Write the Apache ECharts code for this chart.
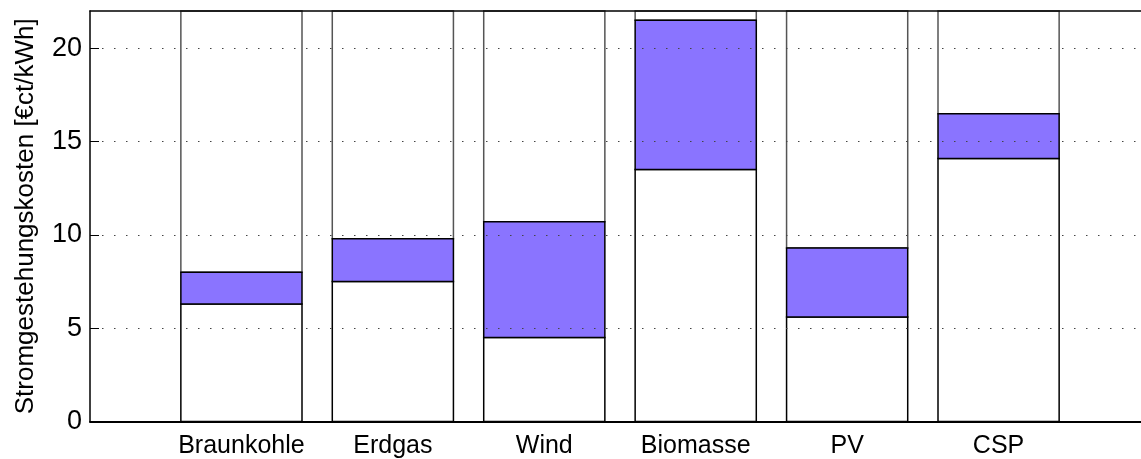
<!DOCTYPE html>
<html>
<head>
<meta charset="utf-8">
<script src="https://cdn.jsdelivr.net/npm/echarts@6/dist/echarts.min.js"></script>
<style>
html,body{margin:0;padding:0;background:#fff;}
#chart{width:1141px;height:459px;}
</style>
</head>
<body>
<div id="chart"></div>
<script>
const categories = ['Braunkohle', 'Erdgas', 'Wind', 'Biomasse', 'PV', 'CSP'];
const lowValues = [6.3, 7.5, 4.5, 13.5, 5.6, 14.1];
const highValues = [8.0, 9.8, 10.7, 21.5, 9.3, 16.5];
const yTicks = [0, 5, 10, 15, 20];
const yMax = 22;

const FONT = 'Liberation Sans, Arial, Helvetica, sans-serif';
const PURPLE = '#8a74ff';
const BAR_W = 0.8;

const data = categories.map((c, i) => [i + 1, lowValues[i], highValues[i]]);

function renderItem(params, api) {
  const x = api.value(0), lo = api.value(1), hi = api.value(2);
  const w = api.size([BAR_W, 0])[0];
  const left = api.coord([x - BAR_W / 2, 0])[0];
  const y0 = api.coord([x, 0])[1];
  const yLo = api.coord([x, lo])[1];
  const yHi = api.coord([x, hi])[1];
  const yTop = api.coord([x, yMax])[1];
  return {
    type: 'group',
    children: [
      { type: 'rect', shape: { x: left, y: yTop, width: w, height: yHi - yTop },
        style: { fill: 'none', stroke: '#555', lineWidth: 1.5 } },
      { type: 'rect', shape: { x: left, y: yLo, width: w, height: y0 - yLo },
        style: { fill: 'none', stroke: '#000', lineWidth: 1.5 } },
      { type: 'rect', shape: { x: left, y: yHi, width: w, height: yLo - yHi },
        style: { fill: PURPLE, stroke: '#000', lineWidth: 1.5 } }
    ]
  };
}

const chart = echarts.init(document.getElementById('chart'));
chart.setOption({
  animation: false,
  backgroundColor: '#fff',
  textStyle: { fontFamily: FONT },
  grid: { left: 90, top: 11, width: 1060, height: 410.5, containLabel: false, outerBoundsMode: 'none' },
  xAxis: [{
    type: 'value', min: 0, max: 7, position: 'bottom', z: 5,
    axisLine: { show: true, lineStyle: { color: '#000', width: 2 } },
    axisTick: { show: false },
    splitLine: { show: false },
    axisLabel: {
      customValues: categories.map((c, i) => i + 1),
      formatter: v => categories[Math.round(v) - 1] || '',
      color: '#000', fontSize: 25, fontFamily: FONT, margin: 12
    }
  }, {
    type: 'value', min: 0, max: 7, position: 'top', z: 5,
    axisLine: { show: true, onZero: false, lineStyle: { color: '#000', width: 1.5 } },
    axisTick: { show: false }, axisLabel: { show: false }, splitLine: { show: false }
  }],
  yAxis: {
    type: 'value', min: 0, max: yMax, interval: 5, z: 5,
    name: 'Stromgestehungskosten [€ct/kWh]',
    nameLocation: 'middle', nameGap: 51,
    nameTextStyle: { color: '#000', fontSize: 26, fontFamily: FONT },
    axisLine: { show: true, lineStyle: { color: '#000', width: 1.5 } },
    axisTick: { show: true, inside: true, length: 9, customValues: yTicks, lineStyle: { color: '#000', width: 1 } },
    axisLabel: { customValues: yTicks, color: '#000', fontSize: 27, fontFamily: FONT, margin: 8 },
    splitLine: { show: true, showMinLine: false,
      lineStyle: { color: '#444', width: 1, type: [1.5, 10.5] } }
  },
  series: [{
    type: 'custom',
    renderItem: renderItem,
    data: data,
    z: 1,
    clip: false,
    encode: { x: 0, y: [1, 2] }
  }]
});
</script>
</body>
</html>
